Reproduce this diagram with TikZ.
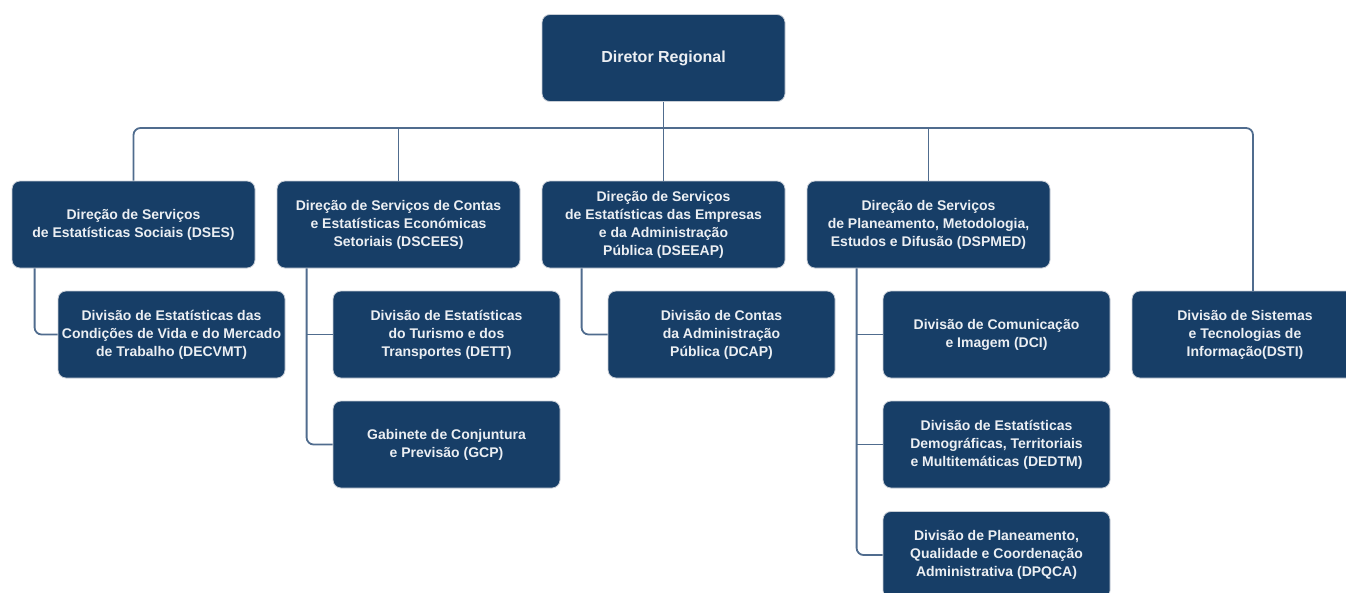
\documentclass[tikz,border=0pt]{standalone}
\usepackage{fontspec}
\setmainfont{Liberation Sans}
\usetikzlibrary{calc}
\definecolor{navy}{RGB}{23,62,103}
\definecolor{linkblue}{RGB}{80,108,142}
\definecolor{boxedge}{RGB}{200,206,214}

\begin{document}
\begin{tikzpicture}[x=1pt,y=-1pt,
  box/.style={rectangle,rounded corners=8pt,fill=navy,draw=boxedge,line width=0.8pt,
    minimum width=243pt,minimum height=87pt,inner sep=2pt,align=center,text=white!92!navy,
    font=\bfseries\fontsize{14}{18}\selectfont},
  sub/.style={box,minimum width=227pt},
  link/.style={draw=linkblue,line width=1.8pt,rounded corners=7pt} % <-- linhas do organograma
]
\useasboundingbox (0,0) rectangle (1346,592);
\clip (0,0) rectangle (1346,592);

% topo
\node[box,font=\bfseries\fontsize{16}{18}\selectfont] (dr) at (663.5,58) {Diretor Regional};
\coordinate (bus) at (663.5,128);

% direcoes de servicos
\node[box] (dses) at (133.5,224.5) {Direção de Serviços\\de Estatísticas Sociais (DSES)};
\node[box] (dscees) at (398.5,224.5) {Direção de Serviços de Contas\\e Estatísticas Económicas\\Setoriais (DSCEES)};
\node[box] (dseeap) at (663.5,224.5) {Direção de Serviços\\de Estatísticas das Empresas\\e da Administração\\Pública (DSEEAP)};
\node[box] (dspmed) at (928.5,224.5) {Direção de Serviços\\de Planeamento, Metodologia,\\Estudos e Difusão (DSPMED)};
\node[sub,minimum width=226pt] (dsti) at (1245,334.5) {Divisão de Sistemas\\e Tecnologias de\\Informação(DSTI)};

% divisoes
\node[sub] (decvmt) at (171.5,334.5) {Divisão de Estatísticas das\\Condições de Vida e do Mercado\\de Trabalho (DECVMT)};
\node[sub] (dett) at (446.5,334.5) {Divisão de Estatísticas\\do Turismo e dos\\Transportes (DETT)};
\node[sub] (gcp) at (446.5,444.5) {Gabinete de Conjuntura\\e Previsão (GCP)};
\node[sub] (dcap) at (721.5,334.5) {Divisão de Contas\\da Administração\\Pública (DCAP)};
\node[sub] (dci) at (996.5,334.5) {Divisão de Comunicação\\e Imagem (DCI)};
\node[sub] (dedtm) at (996.5,444.5) {Divisão de Estatísticas\\Demográficas, Territoriais\\e Multitemáticas (DEDTM)};
\node[sub] (dpqca) at (996.5,555) {Divisão de Planeamento,\\Qualidade e Coordenação\\Administrativa (DPQCA)};

% ligacoes
\draw[link] (dr.south) -- (bus);
\draw[link] (dses.north) |- (bus) -| (1253,291);
\draw[link] (dscees.north) -- (dscees.north |- bus);
\draw[link] (dseeap.north) -- (dseeap.north |- bus);
\draw[link] (dspmed.north) -- (dspmed.north |- bus);

\coordinate (j1) at ($(decvmt.west)+(-23,0)$);
\coordinate (j2) at ($(dett.west)+(-26,0)$);
\coordinate (j3) at ($(dcap.west)+(-26,0)$);
\coordinate (j4) at ($(dci.west)+(-26,0)$);
\draw[link] (dses.south -| j1) |- (decvmt.west);
\draw[link] (dscees.south -| j2) |- (gcp.west);
\draw[link] (j2) -- (dett.west);
\draw[link] (dseeap.south -| j3) |- (dcap.west);
\draw[link] (dspmed.south -| j4) |- (dpqca.west);
\draw[link] (j4) -- (dci.west);
\draw[link] (j4 |- dedtm.west) -- (dedtm.west);
\end{tikzpicture}
\end{document}
